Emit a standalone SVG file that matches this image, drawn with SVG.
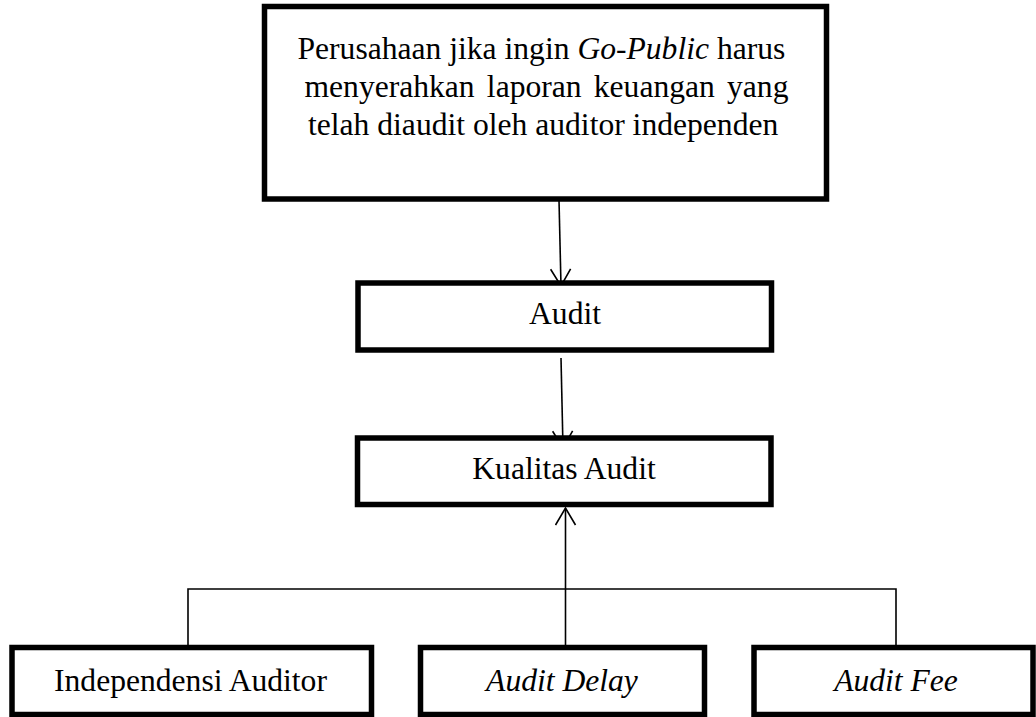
<svg xmlns="http://www.w3.org/2000/svg" width="1036" height="717" viewBox="0 0 1036 717">
<style>
.box{fill:#fff;stroke:#000;stroke-width:5.5}
.t{font-family:"Liberation Serif","Times New Roman",serif;font-size:31.6px;fill:#000}
.i{font-style:italic}
.c{stroke:#000;stroke-width:1.6;fill:none}
</style>
<defs>
<marker id="ah" markerUnits="userSpaceOnUse" markerWidth="22" markerHeight="24" refX="18" refY="11" orient="auto" viewBox="0 0 22 24">
<path d="M1,1 L18,11 L1,21" fill="none" stroke="#000" stroke-width="1.6"/>
</marker>
</defs>
<rect width="1036" height="717" fill="#fff"/>
<g id="connectors">
<line class="c" x1="559" y1="200" x2="561" y2="286" marker-end="url(#ah)"/>
<line class="c" x1="561" y1="358" x2="563" y2="448" marker-end="url(#ah)"/>
<line class="c" x1="565.5" y1="645" x2="565.5" y2="508" marker-end="url(#ah)"/>
<polyline class="c" points="188,645 188,589 896,589 896,645"/>
</g>
<g id="node-gopublic">
<rect class="box" x="264.5" y="6.5" width="562" height="192.5"/>
<text class="t" x="297.5" y="59">Perusahaan jika ingin <tspan class="i">Go-Public</tspan> harus</text>
<text class="t" x="304.5" y="97" word-spacing="4.3">menyerahkan laporan keuangan yang</text>
<text class="t" x="308" y="135">telah diaudit oleh auditor independen</text>
</g>
<g id="node-audit">
<rect class="box" x="358" y="283" width="413.5" height="67"/>
<text class="t" x="565" y="324" text-anchor="middle">Audit</text>
</g>
<g id="node-kualitas">
<rect class="box" x="357.5" y="438" width="413.5" height="66.5"/>
<text class="t" x="564" y="479" text-anchor="middle">Kualitas Audit</text>
</g>
<g id="node-independensi">
<rect class="box" x="12" y="647.5" width="359.5" height="67"/>
<text class="t" x="190.5" y="691" text-anchor="middle">Independensi Auditor</text>
</g>
<g id="node-delay">
<rect class="box" x="420.5" y="647.5" width="284" height="67"/>
<text class="t i" x="562" y="691" text-anchor="middle">Audit Delay</text>
</g>
<g id="node-fee">
<rect class="box" x="754" y="647.5" width="279" height="67"/>
<text class="t i" x="896" y="691" text-anchor="middle">Audit Fee</text>
</g>
</svg>
